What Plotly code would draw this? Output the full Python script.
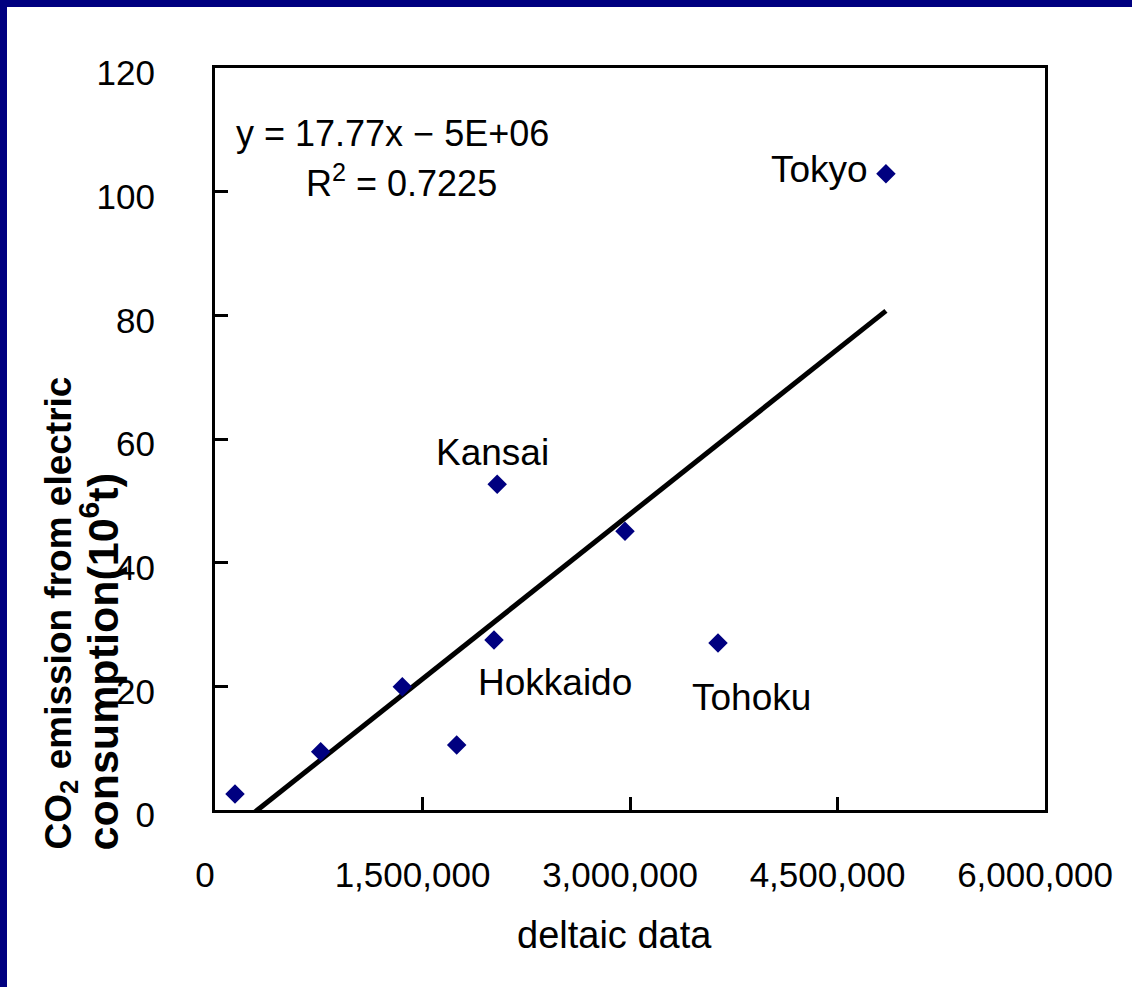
import numpy as np
import plotly.graph_objects as go

# ---- data ----
x_vals = [144600, 764000, 1354000, 1747000, 2017000, 2040000, 2964000, 3636000, 4850000]
y_vals = [2.59, 9.43, 19.94, 10.5, 27.5, 52.7, 45.1, 27.0, 102.9]
point_names = ["", "", "", "", "Hokkaido", "Kansai", "", "Tohoku", "Tokyo"]
label_shift = {"Hokkaido": (61, -43), "Kansai": (-5, 32), "Tohoku": (34, -54), "Tokyo": (-66, 4)}
x_ticks = [0, 1500000, 3000000, 4500000, 6000000]
x_ticktext = ["0", "1,500,000", "3,000,000", "4,500,000", "6,000,000"]
y_ticks = [0, 20, 40, 60, 80, 100, 120]
trend_slope = 17.77e-6  # per unit of x, in 10^6 t
equation_text = "y = 17.77x \u2212 5E+06"
r2_text = "R<sup>2</sup> = 0.7225"
x_title = "deltaic data"
y_title_1 = "<b>CO<sub>2</sub> emission from electric</b>"
y_title_2 = "<b>consumption(10<sup>6</sup>t)</b>"

# ---- layout geometry ----
W, H = 1132, 987
L, R, T, B = 215, 1045, 68, 810
FONT = "Liberation Sans, Arial, sans-serif"
NAVY = "#000080"


def px(xp):
    return (xp - L) / (R - L)


def py(yp):
    return (B - yp) / (B - T)


xs = np.array(x_vals, dtype=float)
ys = np.array(y_vals, dtype=float)
intercept = ys.mean() - trend_slope * xs.mean()
line_x = np.array([xs.min(), xs.max()])
line_y = trend_slope * line_x + intercept

fig = go.Figure()
fig.add_trace(go.Scatter(x=line_x, y=line_y, mode="lines",
                         line=dict(color="black", width=5), hoverinfo="skip",
                         showlegend=False))
fig.add_trace(go.Scatter(x=x_vals, y=y_vals, mode="markers",
                         marker=dict(symbol="diamond", size=15, color=NAVY),
                         showlegend=False, cliponaxis=False))

annotations = []
for xv, yv, name in zip(x_vals, y_vals, point_names):
    if name:
        dx, dy = label_shift[name]
        annotations.append(dict(x=xv, y=yv, xref="x", yref="y", text=name, showarrow=False,
                                xanchor="center", yanchor="middle",
                                xshift=dx, yshift=dy, font=dict(size=37, color="black", family=FONT)))

annotations.append(dict(x=px(392), y=py(133), xref="paper", yref="paper", text=equation_text,
                        xanchor="center", yanchor="middle",
                        showarrow=False, font=dict(size=36, color="black", family=FONT)))
annotations.append(dict(x=px(401), y=py(181), xref="paper", yref="paper", text=r2_text,
                        xanchor="center", yanchor="middle",
                        showarrow=False, font=dict(size=36, color="black", family=FONT)))
annotations.append(dict(x=px(614), y=py(935), xref="paper", yref="paper", text=x_title,
                        xanchor="center", yanchor="middle",
                        showarrow=False, font=dict(size=38, color="black", family=FONT)))
annotations.append(dict(x=px(60), y=py(852), xref="paper", yref="paper",
                        xanchor="center", yanchor="bottom", textangle=-90,
                        text=y_title_1, showarrow=False,
                        font=dict(size=37, color="black", family=FONT)))
annotations.append(dict(x=px(99), y=py(852), xref="paper", yref="paper",
                        xanchor="center", yanchor="bottom", textangle=-90,
                        text=y_title_2, showarrow=False,
                        font=dict(size=43, color="black", family=FONT)))

# navy page frame on the left and top: navy paper with a white panel laid over it
shapes = [
    dict(type="rect", xref="paper", yref="paper", x0=px(7), x1=px(W + 2), y0=py(H + 2), y1=py(7),
         fillcolor="white", line=dict(width=0), layer="below"),
]

fig.update_layout(
    width=W, height=H,
    margin=dict(l=L, r=W - R, t=T, b=H - B, pad=0),
    paper_bgcolor=NAVY, plot_bgcolor="rgba(0,0,0,0)",
    annotations=annotations, shapes=shapes,
    showlegend=False,
)
fig.update_xaxes(range=[0, 6000000], tickvals=x_ticks, ticktext=x_ticktext,
                 ticks="inside", ticklen=13, tickwidth=3, tickcolor="black",
                 showline=True, linecolor="black", linewidth=3, mirror=True,
                 showgrid=False, zeroline=False, ticklabelstandoff=32, ticklabelshift=-10,
                 tickfont=dict(size=35, color="black", family=FONT))
fig.update_yaxes(range=[0, 120], tickvals=y_ticks,
                 ticks="inside", ticklen=13, tickwidth=3, tickcolor="black",
                 showline=True, linecolor="black", linewidth=3, mirror=True,
                 showgrid=False, zeroline=False, ticklabelstandoff=50, ticklabelshift=5,
                 tickfont=dict(size=35, color="black", family=FONT))

fig.write_html("out.html")
